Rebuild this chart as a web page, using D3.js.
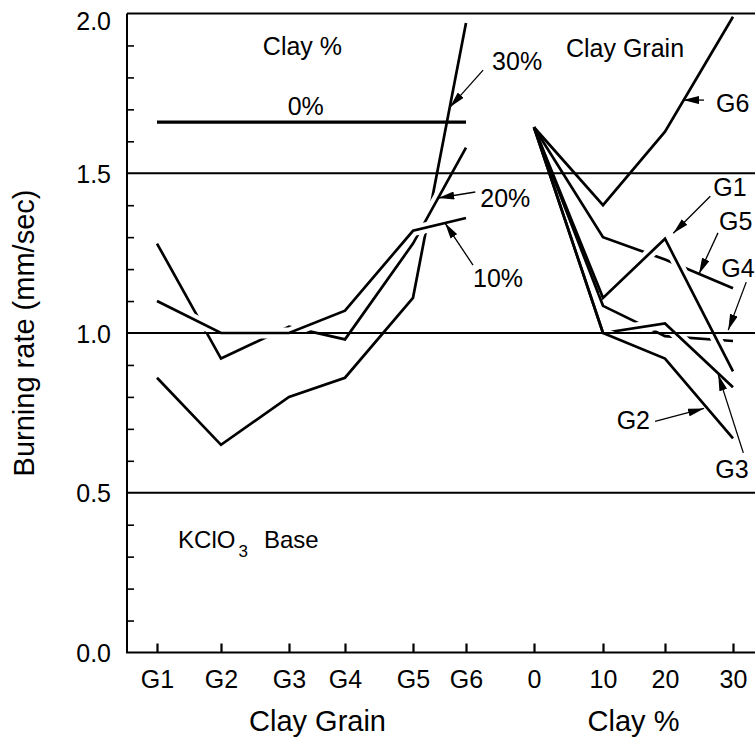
<!DOCTYPE html>
<html>
<head>
<meta charset="utf-8">
<script src="https://cdn.jsdelivr.net/npm/d3@7"></script>
<style>
  html, body { margin: 0; padding: 0; background: #fff; }
  svg { display: block; }
  text { font-family: "Liberation Sans", Arial, Helvetica, sans-serif; fill: #000; }
</style>
</head>
<body>
<svg id="chart" width="755" height="738"></svg>
<script>
// ---- Data -------------------------------------------------------------
// Shared horizontal axis: clay grain types, then clay percentage
const grainCategories = ["G1", "G2", "G3", "G4", "G5", "G6"];
const clayCategories  = ["0", "10", "20", "30"];

// Burning rate (mm/sec) against clay grain, one series per clay content
const clayPctNames = ["0%", "10%", "20%", "30%"];
const rate0pct  = [1.66, 1.66, 1.66, 1.66, 1.66, 1.66];
const rate10pct = [1.10, 1.00, 1.00, 1.07, 1.32, 1.36];
const rate20pct = [1.28, 0.92, 1.02, 0.98, 1.28, 1.58];
const rate30pct = [0.86, 0.65, 0.80, 0.86, 1.11, 1.97];

// Burning rate (mm/sec) against clay %, one series per clay grain
const grainNames = ["G1", "G2", "G3", "G4", "G5", "G6"];
const rateG1 = [1.644, 1.11, 1.295, 0.88];
const rateG2 = [1.644, 1.00, 0.92, 0.67];
const rateG3 = [1.644, 1.00, 1.03, 0.83];
const rateG4 = [1.644, 1.085, 0.99, 0.975];
const rateG5 = [1.644, 1.30, 1.23, 1.14];
const rateG6 = [1.644, 1.40, 1.63, 1.99];

// Vertical axis
const yMajorTicks = [0.0, 0.5, 1.0, 1.5, 2.0];
const yMinorTicks = [0.1, 0.2, 0.3, 0.4, 0.6, 0.7, 0.8, 0.9, 1.1, 1.2, 1.3, 1.4, 1.6, 1.7, 1.8, 1.9];

// Arrow call-outs: tip at (category slot, rate), label names the curve
const calloutLabels = ["30%", "20%", "10%", "G6", "G1", "G5", "G4", "G2", "G3"];
const calloutSlot   = [4.70, 4.477, 4.604, 8.265, 8.122, 8.50, 8.93, 8.574, 8.784];
const calloutRate   = [1.707, 1.4225, 1.344, 1.729, 1.312, 1.185, 1.009, 0.764, 0.869];

// ---- Layout -----------------------------------------------------------
const W = 755, H = 738;
const axisX = 127, plotRight = 755;
const slotPixels = [157, 221, 289, 345, 413, 466, 534, 603, 665, 733];
// tail offset and label placement (relative to the tail) for each call-out
const calloutLayout = [
  { dx: 33,  dy: -37, lx: 9,   ly: 0,   anchor: "start" },
  { dx: 37,  dy: -6,  lx: 5,   ly: 15,  anchor: "start" },
  { dx: 28,  dy: 42,  lx: 0,   ly: 22,  anchor: "start" },
  { dx: 21,  dy: 0,   lx: 12,  ly: 12,  anchor: "start" },
  { dx: 37,  dy: -37, lx: 3,   ly: 0,   anchor: "start" },
  { dx: 19,  dy: -41, lx: 1,   ly: -3,  anchor: "start" },
  { dx: 18,  dy: -48, lx: -25, ly: -5,  anchor: "start" },
  { dx: -49, dy: 13,  lx: -5,  ly: 8,   anchor: "end" },
  { dx: 25,  dy: 78,  lx: -28, ly: 25,  anchor: "start" }
];

const svg = d3.select("#chart");
const allCategories = grainCategories.concat(clayCategories);

const xSlot = d3.scaleLinear().domain(d3.range(allCategories.length)).range(slotPixels);
const xCat = d3.scaleOrdinal().domain(allCategories).range(slotPixels);
const y = d3.scaleLinear().domain([0, 2]).range([652.5, 13.5]);

const line = d3.line().x(d => xCat(d.cat)).y(d => y(d.v));

const gData = svg.append("g");

function drawSeries(cats, values, haloFrom, width) {
  const pts = cats.map((c, i) => ({ cat: c, v: values[i] }));
  if (haloFrom !== null) {
    gData.append("path")
      .attr("d", line(pts.slice(haloFrom)))
      .attr("fill", "none").attr("stroke", "#fff")
      .attr("stroke-width", 11).attr("stroke-linejoin", "round");
  }
  gData.append("path")
    .attr("d", line(pts))
    .attr("fill", "none").attr("stroke", "#000")
    .attr("stroke-width", width).attr("stroke-linejoin", "miter");
}

// Left panel: lower curves first so upper ones break them where they cross
drawSeries(grainCategories, rate30pct, 0, 2.7);
drawSeries(grainCategories, rate20pct, 0, 2.7);
drawSeries(grainCategories, rate10pct, 0, 2.7);
drawSeries(grainCategories, rate0pct, null, 3.3);

// Right panel: curves all start at the 0 % point, so halos skip the first segment
drawSeries(clayCategories, rateG4, 1, 2.7);
drawSeries(clayCategories, rateG5, 1, 2.7);
drawSeries(clayCategories, rateG3, 1, 2.7);
drawSeries(clayCategories, rateG2, 1, 2.7);
drawSeries(clayCategories, rateG1, 1, 2.7);
drawSeries(clayCategories, rateG6, 1, 2.7);

// Grid lines at the labelled rates, plus top border
const gGrid = svg.append("g");
gGrid.selectAll("line.grid")
  .data(yMajorTicks.filter(v => v > 0))
  .join("line")
  .attr("x1", axisX).attr("x2", plotRight)
  .attr("y1", d => y(d)).attr("y2", d => y(d))
  .attr("stroke", "#000").attr("stroke-width", 2);

// Vertical axis: labels and inward minor ticks
const yAxis = d3.axisLeft(y).tickValues(yMajorTicks).tickSize(0).tickPadding(16)
  .tickFormat(d3.format(".1f"));
const gY = svg.append("g").attr("transform", `translate(${axisX},0)`).call(yAxis);
gY.select(".domain").remove();
gY.selectAll("text").attr("font-size", 25).attr("font-family", null)
  .attr("dy", d => d === 2 ? "0.62em" : "0.36em");

const yMinor = d3.axisRight(y).tickValues(yMinorTicks).tickSize(7).tickFormat("");
const gYm = svg.append("g").attr("transform", `translate(${axisX},0)`).call(yMinor);
gYm.select(".domain").remove();
gYm.selectAll("line").attr("stroke", "#000").attr("stroke-width", 1.6);

svg.append("line")
  .attr("x1", axisX).attr("x2", axisX)
  .attr("y1", y(2)).attr("y2", y(0))
  .attr("stroke", "#000").attr("stroke-width", 2);

// Horizontal axis with upward ticks
const xAxis = d3.axisBottom(xCat).tickSizeInner(-9).tickSizeOuter(0).tickPadding(18);
const gX = svg.append("g").attr("transform", `translate(0,${y(0)})`).call(xAxis);
gX.select(".domain").remove();
gX.selectAll("line").attr("stroke", "#000").attr("stroke-width", 2.2);
gX.selectAll("text").attr("font-size", 25).attr("font-family", null);

svg.append("line")
  .attr("x1", axisX - 1).attr("x2", plotRight)
  .attr("y1", y(0)).attr("y2", y(0))
  .attr("stroke", "#000").attr("stroke-width", 2.2);

// Axis titles
svg.append("text")
  .attr("x", (xCat("G1") + xCat("G6")) / 2 + 6).attr("y", 731)
  .attr("text-anchor", "middle").attr("font-size", 29)
  .text("Clay Grain");
svg.append("text")
  .attr("x", (xCat("0") + xCat("30")) / 2 + 0).attr("y", 731)
  .attr("text-anchor", "middle").attr("font-size", 29)
  .text("Clay %");
svg.append("text")
  .attr("transform", `translate(34,${y(1.0)}) rotate(-90)`)
  .attr("text-anchor", "middle").attr("font-size", 29)
  .text("Burning rate (mm/sec)");

// In-plot headings
svg.append("text")
  .attr("x", xSlot(2.24)).attr("y", y(1.87))
  .attr("text-anchor", "middle").attr("font-size", 25)
  .text("Clay %");
svg.append("text")
  .attr("x", xSlot(7.355)).attr("y", y(1.865))
  .attr("text-anchor", "middle").attr("font-size", 25)
  .text("Clay Grain");
svg.append("text")
  .attr("x", xSlot(2.3)).attr("y", y(rate0pct[0]) - 7)
  .attr("text-anchor", "middle").attr("font-size", 25)
  .text(clayPctNames[0]);

const kclo3 = svg.append("text")
  .attr("x", xSlot(0.33)).attr("y", y(0.328))
  .attr("font-size", 24);
kclo3.append("tspan").text("KClO");
kclo3.append("tspan").attr("font-size", 17).attr("dx", 3).attr("dy", 9).text("3");
kclo3.append("tspan").attr("dx", 16).attr("dy", -9).text("Base");

// Arrow call-outs
svg.append("defs").append("marker")
  .attr("id", "head")
  .attr("viewBox", "0 0 16 8")
  .attr("refX", 16).attr("refY", 4)
  .attr("markerUnits", "userSpaceOnUse")
  .attr("markerWidth", 16).attr("markerHeight", 8)
  .attr("orient", "auto")
  .append("path").attr("d", "M0,0 L16,4 L0,8 Z").attr("fill", "#000");

const gCallouts = svg.append("g");
calloutLabels.forEach((lab, i) => {
  const tx = xSlot(calloutSlot[i]), ty = y(calloutRate[i]);
  const L = calloutLayout[i];
  const sx = tx + L.dx, sy = ty + L.dy;
  gCallouts.append("line")
    .attr("x1", sx).attr("y1", sy).attr("x2", tx).attr("y2", ty)
    .attr("stroke", "#000").attr("stroke-width", 1.3)
    .attr("marker-end", "url(#head)");
  gCallouts.append("text")
    .attr("x", sx + L.lx).attr("y", sy + L.ly)
    .attr("text-anchor", L.anchor).attr("font-size", 25)
    .text(lab);
});
</script>
</body>
</html>
